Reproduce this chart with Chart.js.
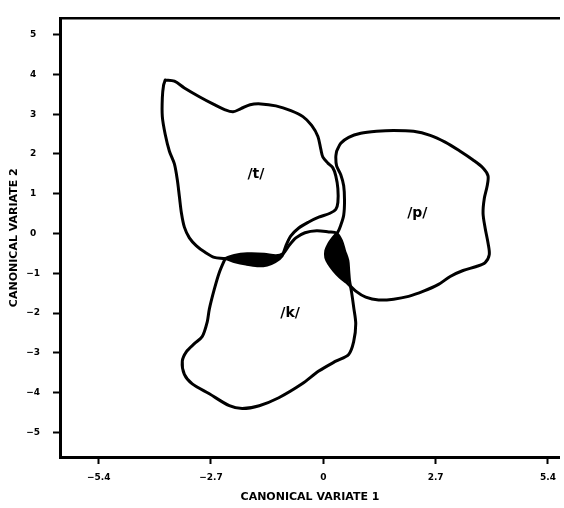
<!DOCTYPE html>
<html><head><meta charset="utf-8">
<script src="https://cdn.jsdelivr.net/npm/chart.js@4.4.0/dist/chart.umd.min.js"></script>
<style>html,body{margin:0;padding:0;background:#fff;}</style>
</head><body>
<canvas id="c" width="564" height="508" style="display:block;width:564px;height:508px"></canvas>
<script>
// ---- tick values ----
const xTicks = [-5.4, -2.7, 0, 2.7, 5.4];
const yTicks = [-5, -4, -3, -2, -1, 0, 1, 2, 3, 4, 5];

// ---- group contour /t/ (canonical variate 1, 2) ----
const tX = [-3.80,-3.58,-3.34,-2.98,-2.62,-2.36,-2.17,-1.98,-1.76,-1.50,-1.14,-0.78,-0.49,-0.28,-0.13,-0.06,-0.01,0.11,0.23,0.30,0.35,0.35,0.30,0.16,-0.11,-0.35,-0.59,-0.78,-0.90,-0.99,-1.16,-1.35,-1.59,-1.86,-2.12,-2.36,-2.62,-2.86,-3.05,-3.22,-3.34,-3.41,-3.46,-3.51,-3.58,-3.70,-3.80,-3.87,-3.87,-3.84,-3.80];
const tY = [3.86,3.83,3.66,3.44,3.24,3.11,3.06,3.14,3.24,3.26,3.21,3.09,2.94,2.72,2.44,2.12,1.92,1.77,1.65,1.45,1.13,0.78,0.61,0.51,0.41,0.29,0.14,-0.06,-0.31,-0.56,-0.71,-0.79,-0.81,-0.77,-0.71,-0.63,-0.60,-0.46,-0.31,-0.11,0.16,0.51,0.93,1.35,1.75,2.07,2.49,2.94,3.41,3.73,3.86];

// ---- group contour /p/ ----
const pX = [0.32,0.42,0.61,0.90,1.28,1.69,2.17,2.57,2.93,3.29,3.60,3.84,3.96,3.94,3.87,3.84,3.89,3.96,3.99,3.89,3.68,3.36,3.05,2.77,2.41,2.05,1.69,1.33,1.02,0.78,0.56,0.40,0.25,0.13,0.06,0.06,0.13,0.23,0.35,0.42,0.49,0.51,0.49,0.42,0.32,0.30,0.32];
const pY = [2.07,2.27,2.42,2.52,2.57,2.59,2.57,2.47,2.30,2.07,1.85,1.65,1.45,1.20,0.88,0.51,0.14,-0.24,-0.53,-0.73,-0.83,-0.93,-1.08,-1.28,-1.45,-1.58,-1.65,-1.67,-1.60,-1.45,-1.23,-1.10,-0.93,-0.76,-0.61,-0.43,-0.26,-0.11,0.04,0.21,0.46,0.83,1.20,1.48,1.70,1.92,2.07];

// ---- group contour /k/ ----
const kX = [-2.36,-2.14,-1.83,-1.42,-1.14,-0.97,-0.83,-0.66,-0.44,-0.16,0.13,0.32,0.44,0.51,0.59,0.61,0.63,0.68,0.73,0.78,0.73,0.61,0.30,-0.11,-0.51,-1.07,-1.54,-1.95,-2.26,-2.74,-3.15,-3.34,-3.39,-3.29,-3.10,-2.91,-2.79,-2.74,-2.62,-2.50,-2.36];
const kY = [-0.63,-0.55,-0.51,-0.52,-0.56,-0.51,-0.31,-0.11,0.02,0.07,0.04,0.01,-0.19,-0.43,-0.68,-0.93,-1.18,-1.48,-1.85,-2.27,-2.72,-3.04,-3.21,-3.46,-3.78,-4.13,-4.33,-4.40,-4.33,-4.03,-3.78,-3.54,-3.21,-2.97,-2.77,-2.59,-2.22,-1.90,-1.40,-0.98,-0.63];

// ---- overlap regions (filled) ----
const overlapTKX = [-2.36,-2.14,-1.83,-1.42,-1.14,-0.99,-1.16,-1.35,-1.59,-1.86,-2.12,-2.36];
const overlapTKY = [-0.63,-0.55,-0.51,-0.52,-0.56,-0.56,-0.71,-0.79,-0.81,-0.77,-0.71,-0.63];
const overlapPKX = [0.32,0.44,0.51,0.59,0.61,0.63,0.56,0.40,0.25,0.13,0.06,0.06,0.13,0.23,0.32];
const overlapPKY = [0.01,-0.19,-0.43,-0.68,-0.93,-1.18,-1.23,-1.10,-0.93,-0.76,-0.61,-0.43,-0.26,-0.11,0.01];

// ---- group labels ----
const groupLabels = ['/t/', '/p/', '/k/'];
const groupLabelX = [-1.62, 2.26, -0.80];
const groupLabelY = [1.50, 0.51, -2.00];

const X_MIN = -6.33, X_MAX = 5.69, Y_MIN = -5.62, Y_MAX = 5.41;

function pts(xs, ys) { return xs.map((x, i) => ({x: x, y: ys[i]})); }
function fmt(v) { return String(v).replace('-', '\u2212'); }

const contour = (xs, ys) => ({
  data: pts(xs, ys), showLine: true, fill: false, borderColor: '#000', borderWidth: 3,
  pointRadius: 0, tension: 0.3, borderJoinStyle: 'round', borderCapStyle: 'round'
});
const overlap = (xs, ys) => ({
  data: pts(xs, ys), showLine: true, fill: 'shape', backgroundColor: '#000', borderColor: '#000',
  borderWidth: 1, pointRadius: 0, tension: 0.25
});

const groupText = {
  id: 'groupText',
  afterDatasetsDraw(chart) {
    const ctx = chart.ctx, sx = chart.scales.x, sy = chart.scales.y;
    ctx.save();
    ctx.font = 'bold 14px "DejaVu Sans"';
    ctx.fillStyle = '#000';
    ctx.textAlign = 'center';
    ctx.textBaseline = 'middle';
    groupLabels.forEach((t, i) => ctx.fillText(t, sx.getPixelForValue(groupLabelX[i]), sy.getPixelForValue(groupLabelY[i])));
    ctx.restore();
  }
};

const tickFont = {family: '"DejaVu Sans"', size: 9, weight: 'bold'};
const titleFont = {family: '"DejaVu Sans"', size: 11, weight: 'bold'};

new Chart(document.getElementById('c'), {
  type: 'scatter',
  data: { datasets: [
    overlap(overlapTKX, overlapTKY),
    overlap(overlapPKX, overlapPKY),
    contour(tX, tY), contour(pX, pY), contour(kX, kY)
  ]},
  options: {
    responsive: false, animation: false, devicePixelRatio: 1,
    layout: {padding: {top: 12, right: 2, left: 0, bottom: 0}},
    plugins: {legend: {display: false}, tooltip: {enabled: false}},
    scales: {
      x: {
        type: 'linear', position: 'bottom', min: X_MIN, max: X_MAX,
        afterBuildTicks: s => { s.ticks = xTicks.map(v => ({value: v})); },
        afterFit: s => { s.height = 51; },
        ticks: {autoSkip: false, maxRotation: 0, color: '#000', font: tickFont, padding: 8, callback: v => fmt(v)},
        grid: {display: true, drawOnChartArea: false, drawTicks: true, tickLength: 7, tickWidth: 2, color: '#000'},
        border: {display: true, color: '#000', width: 3},
        title: {display: true, text: 'CANONICAL VARIATE 1', color: '#000', font: titleFont, padding: {top: 0, bottom: 4}}
      },
      xTop: {
        type: 'linear', position: 'top', min: X_MIN, max: X_MAX,
        afterFit: s => { s.height = 0; },
        ticks: {display: false},
        grid: {display: false, drawTicks: false},
        border: {display: true, color: '#000', width: 2.5}
      },
      y: {
        type: 'linear', position: 'left', min: Y_MIN, max: Y_MAX,
        afterBuildTicks: s => { s.ticks = yTicks.map(v => ({value: v})); },
        afterFit: s => { s.width = 60; },
        ticks: {autoSkip: false, color: '#000', font: tickFont, padding: 13, crossAlign: 'center', callback: v => fmt(v)},
        grid: {display: true, drawOnChartArea: false, drawTicks: true, tickLength: 7, tickWidth: 2, color: '#000'},
        border: {display: true, color: '#000', width: 3},
        title: {display: true, text: 'CANONICAL VARIATE 2', color: '#000', font: titleFont, padding: {top: 8, bottom: 0}}
      }
    }
  },
  plugins: [groupText]
});
</script>
</body></html>
